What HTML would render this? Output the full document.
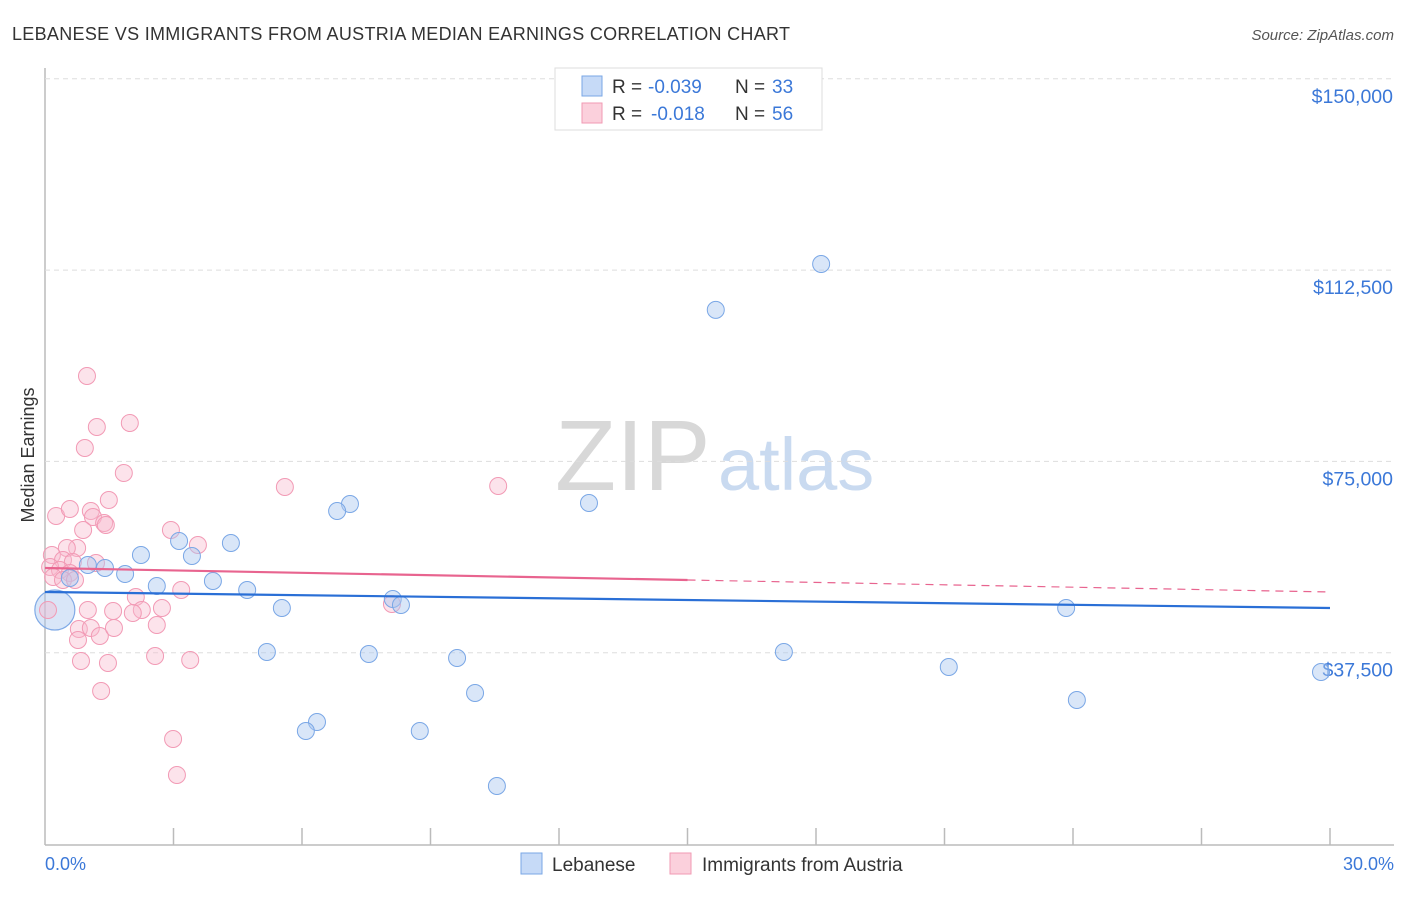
<!DOCTYPE html>
<html><head><meta charset="utf-8"><style>
body{margin:0;background:#fff;font-family:"Liberation Sans",sans-serif}
svg text{font-family:"Liberation Sans",sans-serif}
</style></head><body>
<svg width="1406" height="892" viewBox="0 0 1406 892">
<text x="12" y="40" font-size="18" fill="#333" textLength="778">LEBANESE VS IMMIGRANTS FROM AUSTRIA MEDIAN EARNINGS CORRELATION CHART</text>
<text x="1394" y="40" font-size="15" fill="#555" font-style="italic" text-anchor="end">Source: ZipAtlas.com</text>
<text x="555" y="490" font-size="100" fill="#d8d8d8" font-family="Liberation Serif">ZIP</text>
<text x="718" y="490" font-size="74" fill="#c9daf0">atlas</text>
<g id="grid"></g>
<g id="marks"></g>
<text transform="translate(34,455) rotate(-90)" font-size="18" fill="#333" text-anchor="middle">Median Earnings</text>
<text x="45" y="870" font-size="18" fill="#3b78d8">0.0%</text>
<text x="1394" y="870" font-size="18" fill="#3b78d8" text-anchor="end">30.0%</text>
<g>
<rect x="555" y="68" width="267" height="62" fill="#fff" stroke="#ddd"/>
<rect x="582" y="76" width="20" height="20" fill="#c6daf7" stroke="#7aa7e6"/>
<text x="612" y="93" font-size="19" fill="#333">R =</text>
<text x="648" y="93" font-size="19" fill="#3b78d8">-0.039</text>
<text x="735" y="93" font-size="19" fill="#333">N =</text>
<text x="772" y="93" font-size="19" fill="#3b78d8">33</text>
<rect x="582" y="103" width="20" height="20" fill="#fbd0dc" stroke="#f09ab3"/>
<text x="612" y="120" font-size="19" fill="#333">R =</text>
<text x="651" y="120" font-size="19" fill="#3b78d8">-0.018</text>
<text x="735" y="120" font-size="19" fill="#333">N =</text>
<text x="772" y="120" font-size="19" fill="#3b78d8">56</text>
</g>
<g>
<rect x="521" y="853" width="21" height="21" fill="#c6daf7" stroke="#7aa7e6"/>
<text x="552" y="871" font-size="19" fill="#333">Lebanese</text>
<rect x="670" y="853" width="21" height="21" fill="#fbd0dc" stroke="#f09ab3"/>
<text x="702" y="871" font-size="19" fill="#333">Immigrants from Austria</text>
</g>
</svg>
<script>
const yTicks=[37500,75000,112500,150000];
const yTickLabels=["$37,500","$75,000","$112,500","$150,000"];
const blueX=[18.12,15.66,12.70,7.12,6.82,4.34,3.13,2.24,3.43,1.40,1.87,1.00,0.58,2.61,3.92,4.72,8.12,8.31,5.53,23.84,5.18,7.56,9.62,17.25,21.10,29.79,10.04,24.09,6.35,6.09,8.75,10.55];
const blueY=[113700,104700,66850,66650,65280,59000,59400,56650,56460,54100,52930,54690,52140,50580,51560,49790,48030,46850,46260,46260,37640,37250,36460,37640,34700,33720,29600,28230,23920,22150,22150,11370];
const pinkX=[0.98,1.21,1.98,0.93,1.84,5.60,10.58,1.49,0.26,0.58,1.07,1.12,1.38,1.42,0.89,2.94,3.57,0.75,0.51,0.16,0.42,0.65,1.19,0.12,0.35,0.58,0.19,0.42,0.70,2.12,3.18,1.00,1.59,2.26,2.05,2.73,2.61,0.79,1.07,1.28,1.61,0.77,0.84,1.47,2.57,3.39,1.31,2.99,3.08,8.10,0.07];
const pinkY=[91740,81740,82530,77630,72730,69980,70180,67430,64300,65670,65280,64100,62930,62530,61550,61550,58610,58020,58020,56650,55670,55280,55080,54300,53710,53120,52340,51750,51750,48420,49790,45870,45670,45870,45280,46260,42930,42150,42340,40770,42340,39990,35870,35480,36850,36070,29990,20580,13530,47050,45870];
const bigBlue=[0.23,45870];
const blueTrend=[49400,46260];
const pinkTrend=[54100,51750,49400];
const pinkSolidEnd=15;
const X=v=>45+v/30*1285;
const Y=v=>844-v/37500*191.3;
const NS="http://www.w3.org/2000/svg";
const grid=document.getElementById('grid'),marks=document.getElementById('marks');
function mk(tag,attrs,parent){const e=document.createElementNS(NS,tag);for(const k in attrs)e.setAttribute(k,attrs[k]);parent.appendChild(e);return e;}
let ax=mk('line',{x1:45,y1:68,x2:45,y2:845,stroke:'#bbb','stroke-width':1.5},grid);


let bx=mk('line',{x1:45,y1:845,x2:1394,y2:845,stroke:'#bbb','stroke-width':1.5},grid);


yTicks.forEach((t,i)=>{
 let l=mk('line',{x1:45,x2:1394,y1:Y(t),y2:Y(t),stroke:'#ddd','stroke-dasharray':'5,4'},grid);
 
 
 let tx=mk('text',{x:1393,y:Y(t)+24,'font-size':19.5,fill:'#3b78d8','text-anchor':'end'},grid);
 tx.textContent=yTickLabels[i];
 
 
});
for(let i=1;i<=10;i++){
 let t=mk('line',{x1:X(i*3),x2:X(i*3),y1:828,y2:845,stroke:'#bbb','stroke-width':1.5},grid);
 
 
}
let bb=mk('circle',{cx:X(bigBlue[0]),cy:Y(bigBlue[1]),r:20,fill:'rgba(170,200,240,0.45)',stroke:'#80aae6','stroke-width':1.2},marks);


pinkX.forEach((x,i)=>{
 let c=mk('circle',{cx:X(x),cy:Y(pinkY[i]),r:8.5,fill:'rgba(248,185,205,0.4)',stroke:'#f29ab5','stroke-width':1},marks);
 
 
});
blueX.forEach((x,i)=>{
 let c=mk('circle',{cx:X(x),cy:Y(blueY[i]),r:8.5,fill:'rgba(170,200,240,0.45)',stroke:'#7aa7e6','stroke-width':1},marks);
 
 
});
let bt=mk('line',{x1:X(0),y1:Y(blueTrend[0]),x2:X(30),y2:Y(blueTrend[1]),stroke:'#2a6fd6','stroke-width':2.2},marks);


let pt=mk('line',{x1:X(0),y1:Y(pinkTrend[0]),x2:X(pinkSolidEnd),y2:Y(pinkTrend[1]),stroke:'#e8648f','stroke-width':2.2},marks);


let pd=mk('line',{x1:X(pinkSolidEnd),y1:Y(pinkTrend[1]),x2:X(30),y2:Y(pinkTrend[2]),stroke:'#e8648f','stroke-width':1.2,'stroke-dasharray':'8,6'},marks);


</script>
</body></html>
